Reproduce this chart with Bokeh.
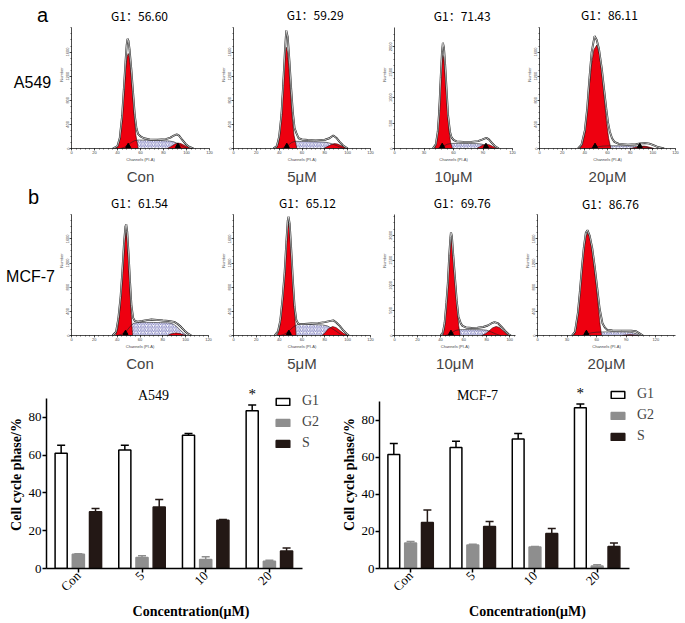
import math
from bokeh.plotting import figure
from bokeh.layouts import row, column
from bokeh.models import (Range1d, FixedTicker, Legend, LegendItem, Title,
                          Whisker, TeeHead, ColumnDataSource)
from bokeh.core.properties import value
from bokeh.embed import file_html
from bokeh.resources import INLINE

# ---------------- labels ----------------
CONC = ["Con", "5μM", "10μM", "20μM"]
G1_A549 = [56.60, 59.29, 71.43, 86.11]
G1_MCF7 = [61.54, 65.12, 69.76, 86.76]

# ---------------- flow histograms (channel, number) ----------------
# A549 Con
a1_out_ch = [36, 40, 42, 44, 45.5, 47, 48, 48.7, 49.5, 50.5, 52, 53.5, 55, 56.5, 58, 60, 63, 68, 75, 82, 86, 89, 91.5, 93.5, 96, 99, 102, 106]
a1_out_n = [0, 40, 180, 540, 980, 1450, 1720, 1820, 1790, 1640, 1320, 940, 560, 330, 240, 200, 170, 150, 145, 155, 180, 215, 235, 215, 150, 80, 30, 0]
a1_g1_ch = [38, 40, 42, 44, 45.5, 47, 48.3, 49.3, 50.3, 51.5, 53, 54.5, 56, 58]
a1_g1_n = [0, 30, 150, 480, 900, 1300, 1520, 1577, 1510, 1300, 950, 560, 220, 0]
a1_s_ch = [43, 46, 49, 52, 55, 58, 65, 75, 85, 89, 92, 95, 98, 101]
a1_s_n = [0, 20, 60, 100, 130, 140, 138, 133, 125, 110, 85, 55, 22, 0]
a1_g2_ch = [83, 86, 88, 90, 92.5, 95, 97.5, 100, 103, 105]
a1_g2_n = [0, 25, 50, 75, 90, 82, 60, 35, 10, 0]
a1_marks = [49.3, 92.5]
# A549 5uM
a2_out_ch = [35, 38, 40, 42, 43.5, 45, 46.2, 47.5, 49, 50.5, 52, 53.5, 55, 57, 60, 65, 72, 80, 84, 87.4, 90, 93, 96, 100]
a2_out_n = [0, 40, 200, 560, 1050, 1600, 1960, 1850, 1450, 1000, 600, 340, 260, 170, 150, 140, 135, 145, 170, 215, 180, 110, 50, 0]
a2_g1_ch = [37.5, 39.5, 41, 42.5, 44, 45.2, 46.2, 47.2, 48.5, 50, 51.5, 53, 55.5]
a2_g1_n = [0, 100, 330, 750, 1250, 1570, 1680, 1600, 1330, 900, 500, 220, 0]
a2_s_ch = [42, 45, 48, 51, 54, 60, 70, 78, 82, 86, 90, 94, 97]
a2_s_n = [0, 15, 55, 100, 120, 118, 112, 108, 100, 80, 50, 18, 0]
a2_g2_ch = [79, 82, 85, 88.3, 91, 94, 97, 100]
a2_g2_n = [0, 30, 60, 81, 75, 50, 20, 0]
a2_marks = [46.7]
# A549 10uM
a3_out_ch = [39, 42, 44, 45.5, 47, 48.3, 49.2, 50.3, 51.5, 53, 54.5, 56.4, 58, 60, 63, 70, 78, 85, 89, 93.4, 96, 99, 102, 106]
a3_out_n = [0, 80, 330, 750, 1400, 1900, 2078, 1980, 1650, 1150, 650, 330, 220, 170, 140, 130, 130, 145, 175, 209, 180, 110, 50, 0]
a3_g1_ch = [41, 43, 44.5, 46, 47.3, 48.3, 49.2, 50.2, 51.3, 52.5, 54, 55.5, 57, 59]
a3_g1_n = [0, 150, 450, 1000, 1500, 1760, 1830, 1760, 1500, 1150, 700, 350, 120, 0]
a3_s_ch = [44, 47, 50, 54, 58, 65, 75, 85, 89, 92, 95, 98, 101]
a3_s_n = [0, 20, 50, 85, 100, 100, 98, 95, 85, 65, 40, 15, 0]
a3_g2_ch = [83.5, 86.5, 89.5, 93.4, 97, 100, 103, 105]
a3_g2_n = [0, 30, 65, 85, 70, 40, 12, 0]
a3_marks = [48.5, 93]
# A549 20uM
a4_out_ch = [34, 37, 40, 42, 44, 46, 48.6, 50.5, 52.5, 55, 57, 59, 60.5, 62, 64, 66, 70, 78, 85, 89, 93, 97, 101, 105, 110]
a4_out_n = [0, 60, 300, 650, 1150, 1600, 1865, 1800, 1650, 1320, 980, 650, 430, 283, 170, 110, 75, 65, 70, 85, 92, 80, 50, 20, 0]
a4_g1_ch = [35.5, 38, 40, 42, 44, 46, 48, 50.6, 53, 55, 57, 59, 61, 63]
a4_g1_n = [0, 80, 260, 620, 1050, 1400, 1640, 1718, 1560, 1250, 860, 460, 170, 0]
a4_s_ch = [44, 48, 52, 56, 62, 70, 80, 88, 93, 97, 101]
a4_s_n = [0, 15, 30, 40, 45, 45, 43, 38, 25, 10, 0]
a4_g2_ch = [80, 84, 88, 92, 95, 98, 101]
a4_g2_n = [0, 15, 32, 40, 32, 15, 0]
a4_marks = [49, 88.5]
# MCF-7 Con
b1_out_ch = [36, 39, 41, 43, 44.5, 46, 47.2, 47.9, 48.8, 50, 51.3, 52.5, 54, 55.5, 58, 62, 66, 70, 75, 80, 85, 90, 93, 96, 99, 102, 105]
b1_out_n = [0, 60, 280, 640, 1050, 1530, 1800, 1843, 1720, 1350, 880, 500, 290, 240, 230, 240, 255, 265, 258, 248, 240, 225, 190, 140, 80, 30, 0]
b1_g1_ch = [38.5, 40.5, 42, 43.5, 45, 46.3, 47.2, 47.9, 48.7, 49.7, 51, 52.3, 53.5]
b1_g1_n = [0, 120, 350, 700, 1130, 1500, 1670, 1709, 1620, 1300, 820, 350, 0]
b1_s_ch = [40, 44, 48, 51, 54, 58, 65, 75, 85, 89, 92, 95, 98, 101]
b1_s_n = [0, 20, 70, 140, 200, 215, 218, 215, 210, 190, 150, 95, 40, 0]
b1_g2_ch = [84, 87, 90, 92, 95, 98, 100.5]
b1_g2_n = [0, 25, 38, 40, 32, 12, 0]
b1_marks = [47.3]
# MCF-7 5uM
b2_out_ch = [36, 39, 41, 43, 44.8, 46.3, 47.5, 48.2, 49.2, 50.5, 52, 53.5, 55, 56.5, 58, 62, 68, 74, 80, 84, 87.4, 90, 93, 96, 99, 101]
b2_out_n = [0, 70, 250, 620, 1050, 1550, 1900, 1968, 1850, 1450, 920, 480, 260, 200, 190, 190, 198, 205, 222, 238, 251, 215, 160, 90, 30, 0]
b2_g1_ch = [38.3, 40.3, 42, 43.5, 44.8, 46, 47.2, 48.2, 49.2, 50.5, 51.9, 53.3, 54.8]
b2_g1_n = [0, 120, 350, 700, 1000, 1400, 1750, 1851, 1750, 1380, 930, 420, 0]
b2_s_ch = [41, 44, 47, 50, 53, 56, 62, 70, 78, 82, 86, 90, 93, 96]
b2_s_n = [0, 15, 50, 100, 150, 180, 185, 180, 175, 160, 120, 70, 30, 0]
b2_g2_ch = [77.4, 80, 83, 86.8, 90, 93, 96, 99, 100.5]
b2_g2_n = [0, 40, 110, 149, 130, 85, 40, 10, 0]
b2_marks = [48.5]
# MCF-7 10uM
b3_out_ch = [40, 42, 43.5, 45, 46.3, 47.5, 48.5, 49, 49.8, 51, 52.5, 54, 55.5, 57.4, 59, 62, 67, 72, 77, 81, 84, 86.8, 90, 93, 96, 99, 101]
b3_out_n = [0, 60, 250, 650, 1050, 1600, 1950, 2062, 1980, 1600, 1150, 700, 380, 247, 190, 160, 150, 155, 170, 200, 240, 267, 240, 170, 90, 25, 0]
b3_g1_ch = [42, 43.5, 45, 46.2, 47.3, 48.3, 49, 49.8, 50.8, 52, 53.2, 54.5, 55.7, 57]
b3_g1_n = [0, 200, 600, 1000, 1500, 1880, 1998, 1900, 1600, 1250, 950, 500, 200, 0]
b3_s_ch = [44, 47, 50, 53, 56, 60, 68, 76, 80, 84, 88, 92]
b3_s_n = [0, 20, 60, 100, 115, 118, 117, 115, 105, 70, 30, 0]
b3_g2_ch = [75.6, 79, 82, 85, 88.2, 91, 94, 97, 99]
b3_g2_n = [0, 35, 90, 150, 181, 160, 100, 35, 0]
b3_marks = [49]
# MCF-7 20uM
b4_out_ch = [35, 38, 41, 43, 45, 47, 49, 50.7, 53, 55.5, 58, 60.5, 63, 66, 68.5, 71, 76, 85, 95, 100, 103, 107]
b4_out_n = [0, 60, 380, 730, 1120, 1460, 1700, 1744, 1650, 1450, 1150, 800, 450, 197, 130, 90, 82, 80, 80, 70, 40, 0]
b4_g1_ch = [36.5, 39, 41, 43, 45, 47, 49, 51.3, 53.5, 55.5, 57.5, 59.5, 61.5, 63.5, 65]
b4_g1_n = [0, 120, 370, 720, 1100, 1420, 1640, 1707, 1600, 1380, 1120, 850, 500, 180, 0]
b4_s_ch = [45, 50, 55, 60, 70, 80, 90, 96, 100, 104]
b4_s_n = [0, 25, 45, 55, 60, 60, 58, 50, 30, 0]
b4_g2_ch = [86, 90, 94, 98, 102]
b4_g2_n = [0, 10, 14, 10, 0]
b4_marks = [49.6]

# ---------------- bar charts (% of cells) ----------------
BAR_CATS = ["Con", "5", "10", "20"]
A549_G1 = [61.0, 62.7, 70.5, 83.5]
A549_G1_ERR = [65.3, 65.3, 71.5, 86.5]
A549_G2 = [7.6, 5.8, 4.8, 3.9]
A549_G2_ERR = [7.8, 6.7, 6.2, 4.4]
A549_S = [30.0, 32.6, 25.6, 9.2]
A549_S_ERR = [31.8, 36.5, 25.9, 10.9]
MCF7_G1 = [61.5, 65.2, 69.8, 86.6]
MCF7_G1_ERR = [67.4, 68.6, 72.8, 88.6]
MCF7_G2 = [13.7, 12.6, 11.6, 1.4]
MCF7_G2_ERR = [14.6, 13.1, 11.9, 2.0]
MCF7_S = [24.8, 22.7, 18.9, 11.9]
MCF7_S_ERR = [31.5, 25.3, 21.6, 13.8]

RED = "#ee0010"
HATCH = "#30309a"
SANS = "Liberation Sans"
CJK = "Noto Sans CJK SC"
SERIF = "Liberation Serif"


def base_fig(w, h, xr, yr, bl, br, bt, bb):
    p = figure(width=w, height=h, x_range=Range1d(*xr), y_range=Range1d(*yr),
               min_border_left=bl, min_border_right=br,
               min_border_top=bt, min_border_bottom=bb,
               output_backend="svg", toolbar_location=None, title=None)
    p.xgrid.visible = False
    p.ygrid.visible = False
    p.outline_line_color = None
    return p


def strip(w, h, y0, items):
    """text-only side strip; coordinates are page pixels of this strip"""
    p = figure(width=w, height=h, x_range=Range1d(0, w), y_range=Range1d(h + y0, y0),
               min_border=0, x_axis_location=None, y_axis_location=None,
               output_backend="svg", toolbar_location=None, title=None)
    p.grid.visible = False
    p.outline_line_color = None
    for txt, x, y, size in items:
        p.text(x=[x], y=[y], text=[txt], text_font=value(SANS), text_font_size=size,
               text_align="center", text_baseline="middle", text_color="#000000")
    return p


def hist_panel(bx, fx, rowy, fb, axis_top, xmax, yaxis_max, xstep, ystep, curves, marks,
               title, tpos, sub):
    bx0, bx1 = bx
    fx0, fx1 = fx
    top, bot = rowy
    sy = (fb - axis_top) / yaxis_max          # px per count
    sx = (fx1 - fx0) / xmax                   # px per channel
    yr = (0, (fb - top) / sy)
    p = base_fig(bx1 - bx0, bot - top, (0, xmax), yr, fx0 - bx0, bx1 - fx1, 0, bot - fb)

    (och, on), (gch, gn), (sch, sn), (g2ch, g2n) = curves
    p.patch(sch, sn, fill_color="white", hatch_pattern="/", hatch_color=HATCH,
            hatch_scale=3.5, hatch_weight=0.6, line_color=None)
    p.patch(gch, gn, fill_color=RED, line_color="#300000", line_width=0.6)
    p.patch(g2ch, g2n, fill_color=RED, line_color="#300000", line_width=0.6)
    p.line(sch, sn, line_color="#222222", line_width=0.6)
    p.line(och, on, line_color="#202020", line_width=1.9)
    p.line(och, on, line_color="white", line_width=0.7)
    p.scatter(marks, [yaxis_max * 0.02] * len(marks), marker="triangle", size=5,
              color="black")

    # G1 percentage, above the histogram
    p.text(x=[(tpos[0] - fx0) / sx], y=[(fb - tpos[1]) / sy], text=[title],
           text_font=value(CJK), text_font_size="12px", text_align="center",
           text_baseline="middle", text_color="#000000")

    xt = list(range(0, int(xmax) + 1, xstep))
    xm = [v / 5 for v in range(0, int(xmax) * 5 + 1, xstep)]
    yt = list(range(0, int(yaxis_max), ystep))
    ym = list(range(0, int(yaxis_max) + 1, ystep // 4))
    p.xaxis.ticker = FixedTicker(ticks=xt, minor_ticks=xm)
    p.yaxis.ticker = FixedTicker(ticks=yt, minor_ticks=ym)
    p.yaxis.bounds = (0, yaxis_max)
    for ax in (p.xaxis[0], p.yaxis[0]):
        ax.axis_line_width = 0.7
        ax.major_tick_out = 2
        ax.major_tick_in = 0
        ax.minor_tick_out = 1
        ax.minor_tick_in = 0
        ax.major_tick_line_width = 0.6
        ax.minor_tick_line_width = 0.6
        ax.major_label_text_font = SANS
        ax.major_label_text_font_size = "4px"
        ax.major_label_standoff = 0
        ax.axis_label_text_font = SANS
        ax.axis_label_text_font_size = "4px"
        ax.axis_label_text_font_style = "normal"
        ax.axis_label_standoff = 0
    p.xaxis.axis_label = "Channels (PI-A)"
    p.yaxis.axis_label = "Number"
    p.yaxis.major_label_orientation = "vertical"

    p.add_layout(Title(text=sub, align="center", text_font=SANS, text_font_size="15px",
                       text_font_style="normal", standoff=2), "below")
    return p


# ---------------- rows of histograms ----------------
a_curves = [
    ((a1_out_ch, a1_out_n), (a1_g1_ch, a1_g1_n), (a1_s_ch, a1_s_n), (a1_g2_ch, a1_g2_n)),
    ((a2_out_ch, a2_out_n), (a2_g1_ch, a2_g1_n), (a2_s_ch, a2_s_n), (a2_g2_ch, a2_g2_n)),
    ((a3_out_ch, a3_out_n), (a3_g1_ch, a3_g1_n), (a3_s_ch, a3_s_n), (a3_g2_ch, a3_g2_n)),
    ((a4_out_ch, a4_out_n), (a4_g1_ch, a4_g1_n), (a4_s_ch, a4_s_n), (a4_g2_ch, a4_g2_n)),
]
b_curves = [
    ((b1_out_ch, b1_out_n), (b1_g1_ch, b1_g1_n), (b1_s_ch, b1_s_n), (b1_g2_ch, b1_g2_n)),
    ((b2_out_ch, b2_out_n), (b2_g1_ch, b2_g1_n), (b2_s_ch, b2_s_n), (b2_g2_ch, b2_g2_n)),
    ((b3_out_ch, b3_out_n), (b3_g1_ch, b3_g1_n), (b3_s_ch, b3_s_n), (b3_g2_ch, b3_g2_n)),
    ((b4_out_ch, b4_out_n), (b4_g1_ch, b4_g1_n), (b4_s_ch, b4_s_n), (b4_g2_ch, b4_g2_n)),
]
a_marks = [a1_marks, a2_marks, a3_marks, a4_marks]
b_marks = [b1_marks, b2_marks, b3_marks, b4_marks]

# layout (page pixels)
STRIP_W = 55
A_BX = [55, 217, 378, 523, 685]
A_FX = [(67, 209), (229, 370), (390, 512), (535, 675)]
A_ROW = (0, 185)
A_FB = 151
B_BX = [55, 217, 378, 521, 685]
B_FX = [(67, 208), (229, 370), (390, 515), (533, 675)]
B_ROW = (185, 372)
B_FB = 339

# (x max, y value at axis top, axis top px, x tick step, y tick step)
a_scale = [(120, 2000, 28, 20, 400), (120, 2000, 28, 20, 400),
           (120, 2370, 28, 30, 500), (120, 2000, 28, 20, 400)]
b_scale = [(120, 2000, 215, 20, 400), (120, 2000, 215, 20, 400),
           (105, 2410, 215, 20, 500), (140, 2000, 215, 30, 400)]
a_tpos = [(137, 15), (313, 14), (460, 15), (607, 14)]
b_tpos = [(137, 202), (305, 202), (460, 202), (608, 203)]

figs_a = [strip(STRIP_W, A_ROW[1] - A_ROW[0], A_ROW[0],
                [("a", 42, 18, "20px"), ("A549", 32, 102, "16px")])]
for i in range(4):
    xmax, ytop, atop, xs, ys = a_scale[i]
    figs_a.append(hist_panel((A_BX[i], A_BX[i + 1]), A_FX[i], A_ROW, A_FB, atop, xmax, ytop,
                             xs, ys, a_curves[i], a_marks[i], "G1：%.2f" % G1_A549[i],
                             a_tpos[i], CONC[i]))
figs_b = [strip(STRIP_W, B_ROW[1] - B_ROW[0], B_ROW[0],
                [("b", 33, 199, "20px"), ("MCF-7", 30, 298, "16px")])]
for i in range(4):
    xmax, ytop, atop, xs, ys = b_scale[i]
    figs_b.append(hist_panel((B_BX[i], B_BX[i + 1]), B_FX[i], B_ROW, B_FB, atop, xmax, ytop,
                             xs, ys, b_curves[i], b_marks[i], "G1：%.2f" % G1_MCF7[i],
                             b_tpos[i], CONC[i]))


# ---------------- bar charts ----------------
BAR_W = 0.19
OFFS = [-0.27, 0.0, 0.27]
X_AXIS = (-0.5, 3.52)
Y_AXIS = (0, 90)


def bar_panel(bx, frame, axis_px, rowy, title, tpos, series, legend_loc):
    bx0, bx1 = bx
    fx0, fx1, ft, fb = frame
    ax_end, ay_top = axis_px
    top, bot = rowy
    sx = (ax_end - fx0) / (X_AXIS[1] - X_AXIS[0])
    sy = (fb - ay_top) / (Y_AXIS[1] - Y_AXIS[0])
    xr = (X_AXIS[0], X_AXIS[0] + (fx1 - fx0) / sx)
    yr = (0, (fb - ft) / sy)
    p = base_fig(bx1 - bx0, bot - top, xr, yr, fx0 - bx0, bx1 - fx1, ft - top, bot - fb)

    idx = list(range(len(BAR_CATS)))
    styles = [("white", "black", "black"), ("#8e8e8e", "#8e8e8e", "#8e8e8e"),
              ("#231815", "#231815", "#231815")]
    rends = []
    for (vals, errs), off, (fill, line, ecol) in zip(series, OFFS, styles):
        src = ColumnDataSource(dict(x=[i + off for i in idx], top=vals, err=errs))
        r = p.vbar(x="x", top="top", width=BAR_W, source=src, fill_color=fill,
                   line_color=line, line_width=1.5)
        rends.append(r)
        p.add_layout(Whisker(source=src, base="x", lower="top", upper="err",
                             line_color=ecol, line_width=1.5, lower_head=None,
                             upper_head=TeeHead(size=8, line_color=ecol, line_width=1.5)))
    g1_vals, g1_errs = series[0]
    p.text(x=[idx[-1] + OFFS[0]], y=[g1_errs[-1] + 1.5], text=["*"],
           text_font=value(SERIF), text_font_size="15px", text_align="center",
           text_baseline="bottom", text_color="#000000")
    p.text(x=[X_AXIS[0] + (tpos[0] - fx0) / sx], y=[(fb - tpos[1]) / sy], text=[title],
           text_font=value(SERIF), text_font_size="14px", text_align="center",
           text_baseline="middle", text_color="#000000")

    p.xaxis.ticker = FixedTicker(ticks=idx, minor_ticks=[])
    p.xaxis.major_label_overrides = {i: c for i, c in zip(idx, BAR_CATS)}
    p.xaxis.major_label_orientation = math.pi / 4
    p.xaxis.bounds = X_AXIS
    p.yaxis.ticker = FixedTicker(ticks=[0, 20, 40, 60, 80], minor_ticks=[])
    p.yaxis.bounds = Y_AXIS
    for ax in (p.xaxis[0], p.yaxis[0]):
        ax.axis_line_width = 1.5
        ax.axis_line_color = "black"
        ax.major_tick_line_width = 1.5
        ax.major_tick_out = 4
        ax.major_tick_in = 0
        ax.minor_tick_out = 0
        ax.major_label_text_font = SERIF
        ax.major_label_text_font_size = "13px"
        ax.major_label_text_color = "black"
        ax.major_label_standoff = 1
        ax.axis_label_text_font = SERIF
        ax.axis_label_text_font_size = "14px"
        ax.axis_label_text_font_style = "bold"
        ax.axis_label_text_color = "black"
        ax.axis_label_standoff = 2
    p.xaxis.axis_label = "Concentration(μM)"
    p.yaxis.axis_label = "Cell cycle phase/%"

    leg = Legend(items=[LegendItem(label=l, renderers=[r]) for l, r in zip(["G1", "G2", "S"], rends)],
                 location=legend_loc, glyph_width=17, glyph_height=9, label_height=14,
                 label_width=20, spacing=5, padding=0, margin=0, label_standoff=11,
                 label_text_font=SERIF, label_text_font_size="14px",
                 background_fill_alpha=0, border_line_alpha=0)
    p.add_layout(leg)
    return p


C_ROW = (372, 623)
c1 = bar_panel((0, 337), (46, 335, 380, 568), (302, 398), C_ROW, "A549", (153, 395),
               [(A549_G1, A549_G1_ERR), (A549_G2, A549_G2_ERR), (A549_S, A549_S_ERR)],
               (228, 117))
c2 = bar_panel((337, 685), (379, 675, 380, 568), (629, 401), C_ROW, "MCF-7", (477, 395),
               [(MCF7_G1, MCF7_G1_ERR), (MCF7_G2, MCF7_G2_ERR), (MCF7_S, MCF7_S_ERR)],
               (230, 124))

layout = column(row(*figs_a), row(*figs_b), row(c1, c2))
with open("out.html", "w") as f:
    f.write(file_html(layout, INLINE, title="Cell cycle"))
